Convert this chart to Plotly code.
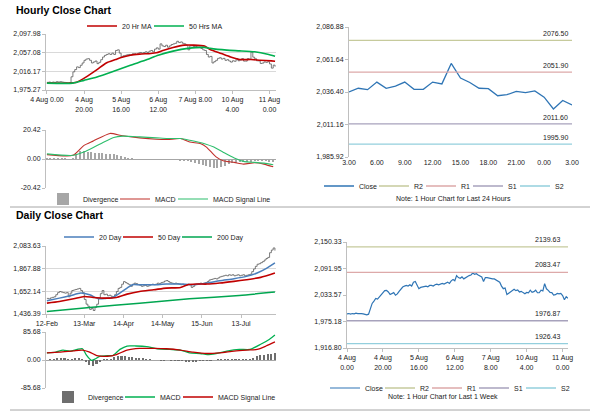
import plotly.graph_objects as go

W, H = 600, 413
FONT = "Liberation Sans, Arial, sans-serif"

# ---------------- Hourly data (4 Aug 0.00 -> 11 Aug 3.00) ----------------
hourly_close = [
    1992.0, 1992.7, 1991.3, 1992.7, 1992.0, 1993.4, 1992.7, 1993.4, 1992.7, 1992.0, 1991.3, 1989.8, 1991.3,
    2004.2, 2015.0, 2020.1, 2025.9, 2024.4, 2029.5, 2034.5, 2040.3, 2043.1, 2043.9, 2040.3, 2034.5,
    2036.7, 2038.8, 2033.0, 2035.9, 2041.7, 2047.5, 2051.1, 2053.2, 2054.7, 2053.2, 2056.1, 2053.2,
    2061.9, 2063.3, 2056.1, 2047.5, 2050.3, 2051.1, 2052.5, 2053.2, 2051.8, 2054.7, 2054.7, 2053.2,
    2056.1, 2057.5, 2056.1, 2057.5, 2059.0, 2057.5, 2060.4, 2061.9, 2059.0, 2064.8, 2067.6, 2064.8,
    2076.3, 2072.0, 2070.5, 2073.4, 2069.1, 2072.0, 2074.9, 2076.3, 2077.7, 2082.0, 2079.2, 2080.6,
    2077.7, 2076.3, 2073.4, 2063.3, 2072.0, 2072.0, 2070.5, 2070.5, 2069.1, 2069.1, 2066.2, 2063.3,
    2061.9, 2053.2, 2047.5, 2048.9, 2034.5, 2037.4, 2040.3, 2044.6, 2046.0, 2043.1, 2044.6, 2040.3, 2041.7, 2038.8,
    2036.4, 2039.3, 2038.2, 2044.1, 2039.3, 2040.9, 2044.1, 2038.5, 2038.5, 2044.1, 2042.7, 2058.6, 2047.2,
    2043.8, 2039.3, 2039.0, 2033.5, 2034.3, 2036.9, 2035.9, 2037.2, 2032.4, 2023.2, 2029.8, 2026.4,
]
ma20_h_x = [0, 12, 16, 21, 27, 32, 37, 40, 45, 50, 56, 59, 63, 68, 74, 79, 85, 88, 94, 99, 104, 110, 115, 121, 123]
ma20_h = [1990.3, 1990.3, 1992.5, 2003.6, 2019.9, 2034.6, 2042.0, 2046.5, 2051.5, 2053.8, 2055.3, 2056.8, 2062.6,
          2068.5, 2073.6, 2073.6, 2071.5, 2064.1, 2055.3, 2047.8, 2042.0, 2042.0, 2040.5, 2039.0, 2038.3]
ma50_h_x = [0, 14, 20, 27, 36, 45, 54, 60, 68, 76, 85, 88, 97, 104, 112, 119, 123]
ma50_h = [1990.3, 1990.3, 1996.3, 2003.6, 2016.2, 2029.4, 2042.0, 2051.5, 2060.4, 2066.4, 2068.6, 2066.4,
          2062.6, 2061.1, 2058.9, 2053.8, 2049.4]

macd_h_x = [0, 14, 20, 25, 34, 40, 50, 59, 65, 72, 77, 83, 86, 91, 95, 101, 106, 112, 117, 122]
macd_h = [3.1, 2.6, 9.6, 12.7, 18.0, 16.6, 14.9, 13.9, 13.7, 14.4, 12.0, 10.8, 8.4, 1.7, -1.2, -2.4, -3.6, -2.6, -3.6, -5.5]
signal_h_x = [0, 14, 21, 29, 36, 41, 50, 59, 65, 72, 77, 85, 90, 95, 101, 106, 112, 117, 122]
signal_h = [3.6, 2.6, 5.5, 10.8, 15.2, 16.1, 15.6, 14.9, 14.4, 14.4, 13.2, 10.8, 8.4, 4.8, 0.7, -1.7, -2.4, -2.9, -4.1]
div_h = [0.5, 0.4, 0.3, 0.2, 0.2, 0.1, 0.0, 0.5, 3.5, 5.8,
         5.5, 5.0, 4.6, 4.5, 4.3, 4.0, 3.7, 3.5, 3.2, 2.8,
         2.0, 1.2, 0.7, 0.2, -0.3, -0.4, -0.5, -0.4, -0.4, -0.5,
         -0.5, -0.4, -0.4, -0.3, -0.5, -0.6, -0.8, -1.0, -1.4, -2.2,
         -3.0, -3.6, -4.3, -5.0, -5.8, -6.3, -6.2, -5.6, -4.8, -3.8,
         -3.1, -2.7, -2.4, -2.2, -2.0, -1.8, -1.6, -1.5, -1.6, -1.7,
         -1.8, -2.0]

hourly_ticks = [0, 20, 40, 60, 80, 100, 120]
hourly_ticktext_left = ["4 Aug 0.00", "4 Aug<br>20.00", "5 Aug<br>16.00", "6 Aug<br>12.00",
                        "7 Aug 8.00", "10 Aug<br>4.00", "11 Aug<br>0.00"]
hourly_ticktext_right = ["4 Aug<br>0.00", "4 Aug<br>20.00", "5 Aug<br>16.00", "6 Aug<br>12.00",
                         "7 Aug<br>8.00", "10 Aug<br>4.00", "11 Aug<br>0.00"]
hourly_yticks = [1975.27, 2016.17, 2057.08, 2097.98]
hourly_ytext = ["1,975.27", "2,016.17", "2,057.08", "2,097.98"]
hmacd_yticks = [-20.42, 0.0, 20.42]
hmacd_ytext = ["-20.42", "0.00", "20.42"]

# last 24 hours
close_24h = hourly_close[-25:]
h24_ticks = [0, 3, 6, 9, 12, 15, 18, 21, 24]
h24_ticktext = ["3.00", "6.00", "9.00", "12.00", "15.00", "18.00", "21.00", "0.00", "3.00"]
h24_yticks = [1985.92, 2011.16, 2036.40, 2061.64, 2086.88]
h24_ytext = ["1,985.92", "2,011.16", "2,036.40", "2,061.64", "2,086.88"]
level_names = ["R2", "R1", "S1", "S2"]
levels_24h = [2076.50, 2051.90, 2011.60, 1995.90]
levels_week = [2139.63, 2083.47, 1976.87, 1926.43]
week_yticks = [1916.80, 1975.18, 2033.57, 2091.95, 2150.33]
week_ytext = ["1,916.80", "1,975.18", "2,033.57", "2,091.95", "2,150.33"]

# ---------------- Daily data (12 Feb -> 10 Aug, trading days) ----------------
daily_close = [
    1585, 1580, 1590, 1595, 1600, 1620, 1640, 1650, 1645, 1640,
    1635, 1640, 1600, 1635, 1660, 1665, 1670, 1675, 1680, 1660,
    1640, 1575, 1530, 1510, 1480, 1490, 1470, 1500, 1530, 1590,
    1630, 1660, 1620, 1625, 1610, 1615, 1605, 1600, 1620, 1650,
    1680, 1690, 1720, 1745, 1735, 1725, 1715, 1700, 1720, 1730,
    1725, 1715, 1710, 1700, 1705, 1710, 1700, 1705, 1715, 1720,
    1715, 1720, 1730, 1725, 1735, 1740, 1750, 1755, 1745, 1735,
    1730, 1725, 1730, 1725, 1720, 1715, 1720, 1715, 1710, 1720,
    1715, 1690, 1700, 1715, 1720, 1725, 1730, 1725, 1730, 1735,
    1745, 1760, 1765, 1770, 1775, 1770, 1780, 1790, 1795, 1800,
    1805, 1800, 1810, 1805, 1810, 1800, 1805, 1810, 1800, 1805,
    1810, 1800, 1805, 1810, 1815, 1840, 1865, 1890, 1910, 1915,
    1925, 1935, 1950, 1965, 1975, 2020, 2045, 2065, 2040,
]
ma20_d_x = [0, 7, 13, 19, 24, 29, 33, 37, 45, 48, 52, 60, 67, 75, 82, 90, 97, 105, 112, 118, 123, 128]
ma20_d = [1561.9, 1587.4, 1609.7, 1635.2, 1619.0, 1581.1, 1585.0, 1593.8, 1683.0, 1714.9, 1714.9,
          1714.9, 1721.3, 1721.3, 1714.9, 1730.8, 1753.1, 1772.3, 1794.6, 1826.5, 1867.9, 1922.1]
ma50_d_x = [0, 7, 15, 21, 26, 33, 39, 45, 52, 60, 67, 75, 79, 84, 90, 97, 105, 112, 120, 128]
ma50_d = [1539.6, 1555.6, 1581.1, 1603.4, 1593.8, 1587.4, 1593.8, 1625.7, 1651.2, 1667.1, 1683.0,
          1689.4, 1714.9, 1721.3, 1721.3, 1730.8, 1746.8, 1762.7, 1785.0, 1826.5]
ma200_d_x = [0, 24, 52, 80, 108, 128]
ma200_d = [1459.9, 1498.1, 1539.6, 1581.1, 1613.0, 1644.8]

macd_d_x = [0, 5, 9, 13, 17, 20, 22, 25, 27, 30, 34, 37, 41, 45, 50, 56, 62, 69, 75, 80, 86, 90, 95, 101,
            108, 114, 120, 125, 128]
macd_d = [21.9, 24.0, 30.3, 27.2, 32.4, 34.5, 16.7, -1.0, 3.1, 11.5, 13.6, 13.6, 32.4, 42.8, 42.8, 40.8,
          34.5, 32.4, 30.3, 21.9, 19.9, 16.7, 19.9, 27.2, 32.4, 32.4, 48.1, 63.7, 76.3]
signal_d_x = [0, 7, 15, 20, 24, 28, 34, 39, 45, 52, 60, 67, 75, 82, 90, 97, 105, 112, 118, 123, 128]
signal_d = [21.9, 24.0, 28.2, 30.3, 24.0, 13.6, 11.5, 16.7, 30.3, 35.5, 35.5, 34.5, 30.3, 24.0, 19.9,
            21.9, 27.2, 30.3, 32.4, 42.8, 55.4]
div_d = [0, 1, 2, 4, 5, 4, 2, 3, 4, 4,
         2, -6, -14, -18, -12, -5, 1, 2, 3, 8,
         12, 13, 12, 10, 8, 7, 5, 4, 3, 1,
         0, 0, -1, -1, 0, -1, -2, -3, -3, -4,
         -4, -4, -4, -3, -3, -2, -1, 0, 1, 2,
         3, 3, 3, 3, 2, 2, 1, 3, 7, 11,
         14, 16, 18, 19, 20]

daily_ticks = [0, 21, 43, 65, 87, 109]
daily_ticktext = ["12-Feb", "13-Mar", "14-Apr", "14-May", "15-Jun", "13-Jul"]
daily_yticks = [1436.39, 1652.14, 1867.88, 2083.63]
daily_ytext = ["1,436.39", "1,652.14", "1,867.88", "2,083.63"]
dmacd_yticks = [-85.68, 0.0, 85.68]
dmacd_ytext = ["-85.68", "0.00", "85.68"]

# ---------------- styling helpers ----------------
level_colors = ["#C6CA9C", "#DDA9A9", "#A7A2BC", "#93CFDD"]
GRID = "#D9D9D9"
AXL = "#BFBFBF"
TF = dict(size=7, color="#1a1a1a", family=FONT)


def dom_x(a, b):
    return [a / W, b / W]


def dom_y(top, bottom):
    return [1 - bottom / H, 1 - top / H]


def xax(a, b, rng, anchor, tickvals=None, ticktext=None, line=True, ticks="outside"):
    d = dict(domain=dom_x(a, b), range=rng, anchor=anchor, showgrid=False, zeroline=False,
             showline=line, linecolor=AXL, linewidth=1, ticks=ticks, ticklen=3, tickcolor=AXL,
             tickfont=TF, fixedrange=True, automargin=False)
    if tickvals is None:
        d.update(showticklabels=False, ticks="")
    else:
        d.update(tickmode="array", tickvals=tickvals, ticktext=ticktext)
    return d


def yax(top, bottom, rng, anchor, tickvals, ticktext, grid=True, zero=False):
    return dict(domain=dom_y(top, bottom), range=rng, anchor=anchor, tickmode="array",
                tickvals=tickvals, ticktext=ticktext, showgrid=grid, gridcolor=GRID, gridwidth=0.8,
                zeroline=zero, zerolinecolor="#A6A6A6", zerolinewidth=1,
                showline=True, linecolor=AXL, linewidth=1, ticks="outside", ticklen=3,
                tickcolor=AXL, tickfont=TF, fixedrange=True, automargin=False)


legend_layout = {}


def new_legend(text_x, y):
    """one legend box per entry, placed so that its label starts at text_x (px)"""
    k = len(legend_layout) + 1
    key = "legend" if k == 1 else f"legend{k}"
    legend_layout[key] = dict(x=(text_x - 40) / W, y=1 - y / H, xanchor="left", yanchor="middle",
                              orientation="h", font=dict(size=7, color="#1a1a1a", family=FONT),
                              bgcolor="rgba(0,0,0,0)", itemwidth=30, tracegroupgap=0)
    return key


fig = go.Figure()

# ---- A: hourly close with MAs
fig.add_trace(go.Scatter(x=list(range(len(hourly_close))), y=hourly_close, mode="lines",
                         line=dict(color="#5A5A5A", width=0.8, shape="hv"), showlegend=False,
                         xaxis="x", yaxis="y", hoverinfo="skip"))
fig.add_trace(go.Scatter(x=ma20_h_x, y=ma20_h, mode="lines", name="20 Hr MA",
                         line=dict(color="#C00000", width=1.6, shape="spline", smoothing=0.6),
                         xaxis="x", yaxis="y", legend=new_legend(122, 26)))
fig.add_trace(go.Scatter(x=ma50_h_x, y=ma50_h, mode="lines", name="50 Hrs MA",
                         line=dict(color="#00B050", width=1.6, shape="spline", smoothing=0.6),
                         xaxis="x", yaxis="y", legend=new_legend(189, 26)))

# ---- B: hourly MACD
fig.add_trace(go.Bar(x=[2 * i for i in range(len(div_h))], y=div_h, name="Divergence",
                     marker=dict(color="#A6A6A6", line_width=0), width=0.7,
                     xaxis="x2", yaxis="y2", legend=new_legend(83, 199)))
fig.add_trace(go.Scatter(x=macd_h_x, y=macd_h, mode="lines", name="MACD",
                         line=dict(color="#C0302B", width=1.1, shape="spline", smoothing=0.6),
                         xaxis="x2", yaxis="y2", legend=new_legend(155, 199)))
fig.add_trace(go.Scatter(x=signal_h_x, y=signal_h, mode="lines", name="MACD Signal Line",
                         line=dict(color="#2DBE6C", width=1.1, shape="spline", smoothing=0.6),
                         xaxis="x2", yaxis="y2", legend=new_legend(213, 199)))

# ---- C: last 24 hours
n24 = len(close_24h)
fig.add_trace(go.Scatter(x=list(range(n24)), y=close_24h, mode="lines", name="Close",
                         line=dict(color="#2F75B5", width=1.3), xaxis="x3", yaxis="y3",
                         legend=new_legend(359, 186)))
for nm, lv, col, tx in zip(level_names, levels_24h, level_colors, [414, 461, 508, 555]):
    fig.add_trace(go.Scatter(x=[0, n24 - 1], y=[lv, lv], mode="lines", name=nm,
                             line=dict(color=col, width=1.3), xaxis="x3", yaxis="y3",
                             legend=new_legend(tx, 186)))

# ---- D: daily close with MAs
fig.add_trace(go.Scatter(x=list(range(len(daily_close))), y=daily_close, mode="lines",
                         line=dict(color="#5A5A5A", width=0.8, shape="hv"), showlegend=False,
                         xaxis="x4", yaxis="y4", hoverinfo="skip"))
fig.add_trace(go.Scatter(x=ma20_d_x, y=ma20_d, mode="lines", name="20 Day",
                         line=dict(color="#4A7EBB", width=1.5, shape="spline", smoothing=0.6),
                         xaxis="x4", yaxis="y4", legend=new_legend(99, 237)))
fig.add_trace(go.Scatter(x=ma50_d_x, y=ma50_d, mode="lines", name="50 Day",
                         line=dict(color="#C00000", width=1.6, shape="spline", smoothing=0.6),
                         xaxis="x4", yaxis="y4", legend=new_legend(158, 237)))
fig.add_trace(go.Scatter(x=ma200_d_x, y=ma200_d, mode="lines", name="200 Day",
                         line=dict(color="#00A650", width=1.5, shape="spline", smoothing=0.6),
                         xaxis="x4", yaxis="y4", legend=new_legend(217, 237)))

# ---- E: daily MACD
fig.add_trace(go.Bar(x=[2 * i for i in range(len(div_d))], y=div_d, name="Divergence",
                     marker=dict(color="#6E6E6E", line_width=0), width=0.9,
                     xaxis="x5", yaxis="y5", legend=new_legend(88, 397)))
fig.add_trace(go.Scatter(x=macd_d_x, y=macd_d, mode="lines", name="MACD",
                         line=dict(color="#00B050", width=1.3, shape="spline", smoothing=0.6),
                         xaxis="x5", yaxis="y5", legend=new_legend(160, 397)))
fig.add_trace(go.Scatter(x=signal_d_x, y=signal_d, mode="lines", name="MACD Signal Line",
                         line=dict(color="#C00000", width=1.3, shape="spline", smoothing=0.6),
                         xaxis="x5", yaxis="y5", legend=new_legend(218, 397)))

# ---- F: last week hourly
nw = len(hourly_close)
fig.add_trace(go.Scatter(x=list(range(nw)), y=hourly_close, mode="lines", name="Close",
                         line=dict(color="#2F75B5", width=1.2), xaxis="x6", yaxis="y6",
                         legend=new_legend(365, 388)))
for nm, lv, col, tx in zip(level_names, levels_week, level_colors, [420, 467, 514, 561]):
    fig.add_trace(go.Scatter(x=[0, nw - 1], y=[lv, lv], mode="lines", name=nm,
                             line=dict(color=col, width=1.3), xaxis="x6", yaxis="y6",
                             legend=new_legend(tx, 388)))

# ---------------- layout ----------------
annotations = [
    dict(text="<b>Hourly Close Chart</b>", x=14 / W, y=1 - 10 / H, xref="paper", yref="paper",
         xanchor="left", yanchor="middle", showarrow=False, font=dict(size=10.5, color="#000", family=FONT)),
    dict(text="<b>Daily Close Chart</b>", x=14 / W, y=1 - 215 / H, xref="paper", yref="paper",
         xanchor="left", yanchor="middle", showarrow=False, font=dict(size=10.5, color="#000", family=FONT)),
    dict(text="Note: 1 Hour Chart for Last 24 Hours", x=453 / W, y=1 - 199 / H, xref="paper", yref="paper",
         xanchor="center", yanchor="middle", showarrow=False, font=dict(size=7, color="#1a1a1a", family=FONT)),
    dict(text="Note: 1 Hour Chart for Last 1 Week", x=443 / W, y=1 - 396 / H, xref="paper", yref="paper",
         xanchor="center", yanchor="middle", showarrow=False, font=dict(size=7, color="#1a1a1a", family=FONT)),
]
for lv in levels_24h:
    annotations.append(dict(text=f"{lv:.2f}", x=n24 - 1, y=lv, xref="x3", yref="y3", xanchor="right",
                            yanchor="bottom", yshift=1, xshift=-2, showarrow=False,
                            font=dict(size=7, color="#1a1a1a", family=FONT)))
for lv in levels_week:
    annotations.append(dict(text=f"{lv:.2f}", x=nw - 1, y=lv, xref="x6", yref="y6", xanchor="right",
                            yanchor="bottom", yshift=2, xshift=-6, showarrow=False,
                            font=dict(size=7, color="#1a1a1a", family=FONT)))

shapes = [
    dict(type="line", xref="paper", yref="paper", x0=10 / W, x1=590 / W, y0=1 - 207 / H, y1=1 - 207 / H,
         line=dict(color="#A6A6A6", width=1)),
    dict(type="line", xref="paper", yref="paper", x0=10 / W, x1=590 / W, y0=1 - 410 / H, y1=1 - 410 / H,
         line=dict(color="#A6A6A6", width=1)),
]

fig.update_layout(
    width=W, height=H, autosize=False,
    margin=dict(l=0, r=0, t=0, b=0, pad=0),
    paper_bgcolor="white", plot_bgcolor="white",
    font=dict(family=FONT, size=7, color="#1a1a1a"),
    bargap=0,
    xaxis=xax(46, 276, [-0.5, 123.5], "y", hourly_ticks, hourly_ticktext_left),
    yaxis=yax(34, 90, [hourly_yticks[0], hourly_yticks[-1]], "x", hourly_yticks, hourly_ytext),
    xaxis2=xax(46, 276, [-0.5, 123.5], "y2", line=False),
    yaxis2=yax(130, 188, [hmacd_yticks[0], hmacd_yticks[-1]], "x2", hmacd_yticks, hmacd_ytext, zero=True),
    xaxis3=xax(349, 572, [0, n24 - 1], "y3", h24_ticks, h24_ticktext, line=False, ticks=""),
    yaxis3=yax(27, 157, [h24_yticks[0], h24_yticks[-1]], "x3", h24_yticks, h24_ytext, grid=False),
    xaxis4=xax(46, 276, [-0.5, 128.6], "y4", daily_ticks, daily_ticktext),
    yaxis4=yax(246, 314, [daily_yticks[0], daily_yticks[-1]], "x4", daily_yticks, daily_ytext),
    xaxis5=xax(46, 276, [-0.5, 128.6], "y5", line=False),
    yaxis5=yax(332, 388, [dmacd_yticks[0], dmacd_yticks[-1]], "x5", dmacd_yticks, dmacd_ytext, zero=True),
    xaxis6=xax(347, 568, [0, nw - 1], "y6", hourly_ticks, hourly_ticktext_right),
    yaxis6=yax(242, 348, [week_yticks[0], week_yticks[-1]], "x6", week_yticks, week_ytext, grid=False),
    annotations=annotations,
    shapes=shapes,
    showlegend=True,
    **legend_layout,
)

fig.write_html("out.html", config={"displayModeBar": False},
               post_script="document.body.style.margin='0px';document.body.style.padding='0px';")
